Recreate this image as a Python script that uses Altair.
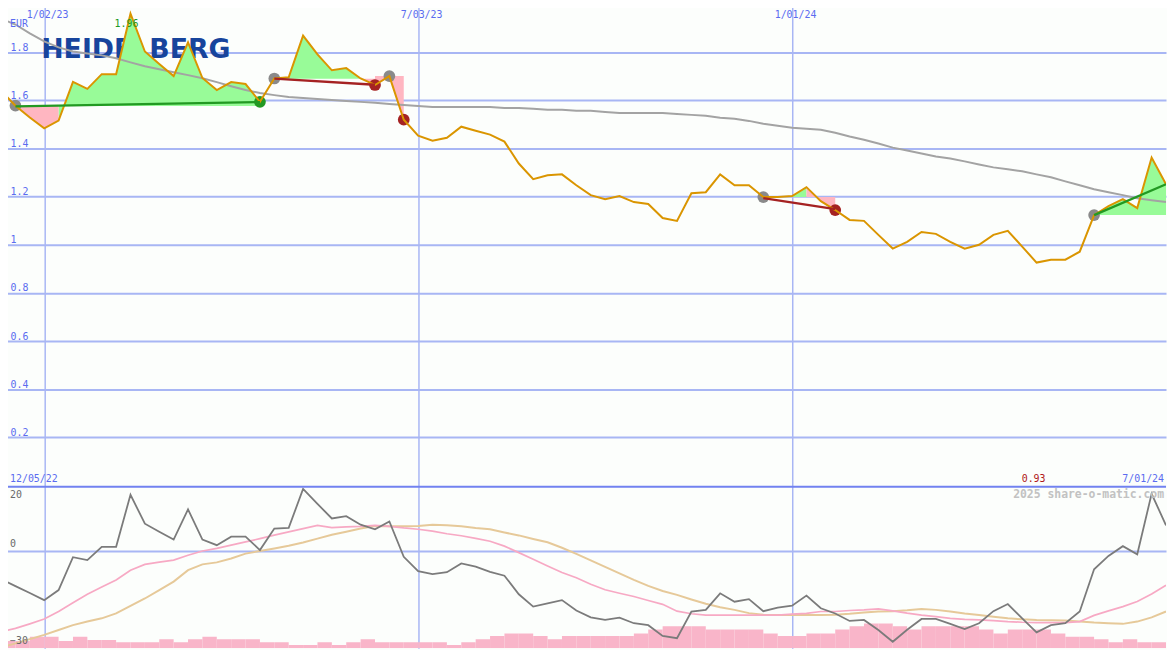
import altair as alt
import pandas as pd

# ---------------- data ----------------
FIRST_WEEK = "2022-12-12"
N_WEEKS = 82
START_LABEL = "12/05/22"
END_LABEL = "7/01/24"
CURRENCY = "EUR"
COMPANY = "HEIDELBERG"
WATERMARK = "2025 share-o-matic.com"

price = [1.639, 1.577, 1.528, 1.483, 1.515, 1.676, 1.647, 1.708, 1.708, 1.959,
         1.802, 1.750, 1.700, 1.840, 1.692, 1.642, 1.675, 1.667, 1.593, 1.690,
         1.695, 1.868, 1.790, 1.724, 1.733, 1.690, 1.663, 1.700, 1.519, 1.453,
         1.432, 1.444, 1.490, 1.473, 1.457, 1.428, 1.337, 1.272, 1.288, 1.292,
         1.247, 1.206, 1.189, 1.202, 1.177, 1.169, 1.111, 1.099, 1.214, 1.218,
         1.292, 1.247, 1.247, 1.198, 1.198, 1.202, 1.239, 1.181, 1.144, 1.103,
         1.099, 1.041, 0.984, 1.012, 1.053, 1.045, 1.012, 0.984, 1.000, 1.041,
         1.058, 0.992, 0.926, 0.938, 0.938, 0.971, 1.123, 1.160, 1.189, 1.152,
         1.362, 1.251]

ma_long = [1.938, 1.914, 1.877, 1.844, 1.819, 1.802, 1.794, 1.786, 1.774, 1.757,
           1.741, 1.728, 1.716, 1.704, 1.691, 1.675, 1.658, 1.642, 1.630, 1.621,
           1.613, 1.609, 1.605, 1.601, 1.597, 1.593, 1.589, 1.584, 1.580, 1.576,
           1.572, 1.572, 1.572, 1.572, 1.572, 1.568, 1.568, 1.564, 1.560, 1.560,
           1.556, 1.556, 1.551, 1.547, 1.547, 1.547, 1.547, 1.543, 1.539, 1.535,
           1.527, 1.523, 1.514, 1.502, 1.494, 1.486, 1.481, 1.477, 1.465, 1.449,
           1.436, 1.420, 1.403, 1.391, 1.379, 1.366, 1.358, 1.346, 1.333, 1.321,
           1.313, 1.305, 1.292, 1.280, 1.263, 1.247, 1.230, 1.218, 1.206, 1.193,
           1.185, 1.177]

momentum = [-8.7, -10.9, -13.0, -15.2, -12.1, -2.0, -2.9, 1.2, 1.2, 17.2,
            8.3, 5.8, 3.4, 12.7, 3.4, 1.7, 4.3, 4.3, 0.2, 6.8,
            7.0, 19.0, 14.4, 9.9, 10.6, 8.0, 6.6, 9.0, -1.9, -6.3,
            -7.2, -6.6, -3.9, -4.9, -6.5, -7.7, -13.4, -17.2, -16.2, -15.2,
            -18.4, -20.5, -21.3, -20.6, -22.3, -22.9, -26.2, -26.9, -18.7, -18.2,
            -13.1, -15.7, -14.9, -18.6, -17.5, -16.9, -13.8, -17.7, -19.3, -21.6,
            -21.3, -24.4, -28.0, -24.3, -21.0, -21.0, -22.5, -24.1, -22.3, -18.6,
            -16.4, -20.8, -25.1, -22.9, -22.3, -18.7, -5.7, -1.6, 1.4, -1.1,
            17.5, 7.8]

mom_avg_fast = [-24.9, -23.9, -22.5, -21.0, -18.7, -16.0, -13.4, -11.2, -9.0, -6.0,
                -4.2, -3.5, -2.9, -1.4, -0.1, 0.7, 1.7, 2.7, 3.7, 4.8,
                5.8, 6.8, 7.8, 7.1, 7.3, 7.5, 7.8, 7.5, 7.0, 6.6,
                6.0, 5.2, 4.6, 3.8, 2.9, 1.4, -0.6, -2.6, -4.7, -6.7,
                -8.3, -10.3, -12.0, -13.1, -14.1, -15.3, -16.5, -18.6, -19.4, -19.8,
                -19.8, -19.8, -19.8, -19.8, -19.8, -19.5, -19.3, -18.7, -18.7, -18.4,
                -18.2, -17.9, -18.5, -19.2, -19.8, -20.3, -20.8, -21.1, -21.3, -21.5,
                -21.8, -22.0, -22.1, -22.1, -22.1, -21.8, -19.9, -18.5, -17.2, -15.6,
                -13.3, -10.6]

mom_avg_slow = [-29.8, -28.5, -27.2, -25.9, -24.4, -22.9, -21.8, -20.8, -19.3, -17.0,
                -14.7, -12.1, -9.5, -6.0, -4.2, -3.6, -2.4, -0.9, -0.1, 0.7,
                1.5, 2.5, 3.7, 4.9, 5.8, 6.8, 7.6, 7.5, 7.5, 7.6,
                8.0, 7.8, 7.5, 7.0, 6.6, 5.6, 4.7, 3.6, 2.6, 0.9,
                -1.0, -3.0, -5.0, -7.0, -9.0, -10.8, -12.4, -13.6, -15.0, -16.3,
                -17.4, -18.2, -19.2, -19.7, -19.8, -19.8, -19.8, -19.8, -19.7, -19.4,
                -19.0, -18.7, -18.6, -18.3, -17.9, -18.2, -18.7, -19.3, -19.8, -20.3,
                -20.8, -21.1, -21.3, -21.4, -21.5, -21.8, -22.1, -22.3, -22.5, -21.8,
                -20.5, -18.7]

volume = [7.3, 7.3, 11.7, 11.7, 7.3, 11.7, 8.3, 8.3, 6.0, 6.0,
          6.0, 9.0, 6.0, 9.0, 11.7, 9.0, 9.0, 9.0, 6.0, 6.0,
          3.3, 3.3, 6.0, 3.3, 6.0, 9.0, 6.0, 6.0, 6.0, 6.0,
          6.0, 3.3, 6.0, 9.0, 12.3, 15.0, 15.0, 12.3, 9.0, 12.3,
          12.3, 12.3, 12.3, 12.3, 15.0, 19.0, 22.3, 22.3, 22.3, 19.0,
          19.0, 19.0, 19.0, 15.0, 12.3, 12.3, 15.0, 15.0, 19.0, 22.3,
          25.0, 25.0, 22.3, 19.0, 22.3, 22.3, 22.3, 22.3, 19.0, 15.0,
          19.0, 19.0, 19.0, 15.0, 11.7, 11.7, 9.0, 6.0, 9.0, 6.0,
          6.0, 6.0]

# signals
entry_weeks = [1, 19, 27, 53, 76]
sell_weeks = [26, 28, 58]
buy_weeks = [18]
trend_start_weeks = [1, 19, 53, 76]
trend_end_weeks = [18, 26, 58, 81]
trend_start_vals = [1.574, 1.689, 1.193, 1.123]
trend_end_vals = [1.592, 1.664, 1.148, 1.251]
trend_kind = ["up", "down", "down", "up"]
band_start_weeks = [1, 19, 26, 53, 76]
band_end_weeks = [18, 26, 28, 58, 81]
band_levels = [1.576, 1.689, 1.700, 1.198, 1.123]

Y_TICKS = [0.2, 0.4, 0.6, 0.8, 1.0, 1.2, 1.4, 1.6, 1.8]
Y_TOP_LINE = [1.997]
DATE_TICKS = ["2023-01-02", "2023-07-03", "2024-01-01"]
LOW_TOP_LABELS = [20]
LOW_BOTTOM_LABELS = [0, -30]

# ---------------- styles ----------------
MONO = "DejaVu Sans Mono"
BG = "#fcfefc"
GRID = "#a8b6f4"
BLUE = "#5b6cf0"
BORDER = "#7282f0"
ORANGE = "#da9500"
MA_GRAY = "#a3a3a3"
GREEN_FILL = "#98fb98"
PINK_FILL = "#ffb6c1"
TREND_GREEN = "#229922"
TREND_RED = "#a52222"
DOT_GRAY = "#8a8a8a"
OSC_GRAY = "#7b7b7b"
SIG_PINK = "#f7a9c4"
SIG_TAN = "#e6c999"
VOL_PINK = "#f9b5c9"

# ---------------- tables ----------------
dates = pd.date_range(FIRST_WEEK, periods=N_WEEKS, freq="7D")
ms = [int(v) for v in (dates.asi8 // 1_000_000)]
WEEK_MS = 7 * 86_400_000
tick_ms = [int(pd.Timestamp(d).value // 1_000_000) for d in DATE_TICKS]

base = pd.DataFrame({
    "t": ms, "t2": [m + WEEK_MS for m in ms], "price": price, "ma": ma_long,
    "mom": momentum, "fast": mom_avg_fast, "slow": mom_avg_slow, "vol": volume,
})

# shaded bands between price and the level of each signal
rows = []
gid = 0
for s, e, lvl in zip(band_start_weeks, band_end_weeks, band_levels):
    prev = None
    for k in range(s, e):
        col = "up" if price[k + 1] > lvl else "down"
        if col != prev:
            gid += 1
            rows.append(dict(g=gid, t=ms[k], p=price[k], lvl=lvl, c=col))
            prev = col
        rows.append(dict(g=gid, t=ms[k + 1], p=price[k + 1], lvl=lvl, c=col))
bands = pd.DataFrame(rows)

trows = []
for n, (s, e, vs, ve, kd) in enumerate(zip(trend_start_weeks, trend_end_weeks,
                                            trend_start_vals, trend_end_vals, trend_kind)):
    trows.append(dict(seg=n, t=ms[s], v=vs, kind=kd))
    trows.append(dict(seg=n, t=ms[e], v=ve, kind=kd))
trends = pd.DataFrame(trows)

drows = [dict(t=ms[i], v=price[i], kind="entry") for i in entry_weeks]
drows += [dict(t=ms[i], v=price[i], kind="sell") for i in sell_weeks]
drows += [dict(t=ms[i], v=price[i], kind="buy") for i in buy_weeks]
dots = pd.DataFrame(drows)

imax = price.index(max(price))
imin = price.index(min(price))
max_df = pd.DataFrame({"t": [ms[imax]], "v": [price[imax]], "s": [f"{price[imax]:.2f}"]})
min_df = pd.DataFrame({"t": [ms[imin]], "s": [f"{price[imin]:.2f}"]})

# ---------------- encodings ----------------
xscale = alt.Scale(type="utc", domain=[ms[0], ms[-1]], nice=False)
date_fmt = "utcFormat(datum.value, '%-m/%d/%y')"


def x_top(field="t"):
    return alt.X(f"{field}:T", scale=xscale, title=None,
                 axis=alt.Axis(orient="top", values=tick_ms, labelExpr=date_fmt,
                               offset=-16, ticks=False, domain=False, grid=True,
                               gridColor=GRID, gridWidth=1.5, labelColor=BLUE,
                               labelFont=MONO, labelFontSize=10, labelPadding=0,
                               labelOffset=3, labelFlush=False, labelOverlap=False,
                               minExtent=0, title=None))


def y_top(field):
    return alt.Y(f"{field}:Q", scale=alt.Scale(domain=[0, 2.0], nice=False, zero=False),
                 title=None,
                 axis=alt.Axis(values=Y_TICKS, format=".2~f",
                               offset=-9, labelAlign="left", labelBaseline="bottom",
                               labelPadding=0, ticks=False, domain=False, grid=True,
                               gridColor=GRID, gridWidth=2, labelColor=BLUE,
                               labelFont=MONO, labelFontSize=10, labelFlush=False,
                               labelOverlap=False, minExtent=0, title=None))


def x_low(field="t"):
    return alt.X(f"{field}:T", scale=xscale, title=None,
                 axis=alt.Axis(values=tick_ms, labels=False, ticks=False, domain=False,
                               grid=True, gridColor=GRID, gridWidth=1.5, minExtent=0,
                               title=None))


def y_low(field):
    return alt.Y(f"{field}:Q", scale=alt.Scale(domain=[-30, 20], nice=False, zero=False),
                 title=None,
                 axis=alt.Axis(values=[0], labels=False, ticks=False, domain=False,
                               grid=True, gridColor=GRID, gridWidth=2, minExtent=0,
                               title=None))


def note(text, x, y, color, align="left", size=10, weight="normal"):
    return alt.Chart(pd.DataFrame({"s": [text]})).mark_text(
        align=align, baseline="middle", font=MONO, fontSize=size,
        fontWeight=weight, color=color,
    ).encode(text="s:N", x=alt.value(x), y=alt.value(y))


# ---------------- top panel ----------------
top_line = alt.Chart(pd.DataFrame({"v": Y_TOP_LINE})).mark_rule(
    color=GRID, strokeWidth=2).encode(y=y_top("v"))

logo = alt.Chart(pd.DataFrame({"s": [COMPANY]})).mark_text(
    font="DejaVu Sans", fontWeight="bold", fontSize=27, color="#17449c",
    align="center", baseline="alphabetic",
).encode(text="s:N", x=alt.value(136), y=alt.value(55))


def band(kind, color):
    return alt.Chart(bands).transform_filter(alt.datum.c == kind).mark_area(
        interpolate="linear", opacity=1, color=color,
    ).encode(x=x_top("t"), y=y_top("p"), y2="lvl:Q", detail="g:N")


def dot_layer(kind, color):
    return alt.Chart(dots).transform_filter(alt.datum.kind == kind).mark_circle(
        size=140, opacity=1, color=color,
    ).encode(x=x_top("t"), y=y_top("v"))


def trend_layer(kind, color):
    return alt.Chart(trends).transform_filter(alt.datum.kind == kind).mark_line(
        strokeWidth=2.3, clip=True, color=color,
    ).encode(x=x_top("t"), y=y_top("v"), detail="seg:N")


ma_layer = alt.Chart(base).mark_line(color=MA_GRAY, strokeWidth=2, clip=True).encode(
    x=x_top("t"), y=y_top("ma"))

price_layer = alt.Chart(base).mark_line(color=ORANGE, strokeWidth=2, clip=True).encode(
    x=x_top("t"), y=y_top("price"))

max_label = alt.Chart(max_df).mark_text(
    font=MONO, fontSize=10, color=TREND_GREEN, align="center", baseline="middle",
    dx=-4, dy=10,
).encode(text="s:N", x=x_top("t"), y=y_top("v"))

min_label = alt.Chart(min_df).mark_text(
    font=MONO, fontSize=10, color="#b01818", align="center", baseline="middle", dx=-3,
).encode(text="s:N", x=x_top("t"), y=alt.value(479))

top = alt.layer(
    top_line, logo,
    band("up", GREEN_FILL), band("down", PINK_FILL),
    ma_layer,
    dot_layer("entry", DOT_GRAY), dot_layer("sell", TREND_RED), dot_layer("buy", TREND_GREEN),
    price_layer,
    trend_layer("up", TREND_GREEN), trend_layer("down", TREND_RED),
    max_label, min_label,
    note(CURRENCY, 9, 20, BLUE),
    note(START_LABEL, 9, 479, BLUE),
    note(END_LABEL, 1173, 479, BLUE, align="right"),
).properties(width=1175, height=486)

# ---------------- bottom panel ----------------
vol_layer = alt.Chart(base).mark_rect(color=VOL_PINK, clip=True, opacity=1).encode(
    x=x_low("t"), x2="t2:T",
    y=alt.Y("vol:Q", scale=alt.Scale(domain=[0, 164], nice=False), axis=None),
    y2=alt.datum(0),
)

slow_layer = alt.Chart(base).mark_line(color=SIG_TAN, strokeWidth=2, clip=True).encode(
    x=x_low("t"), y=y_low("slow"))
fast_layer = alt.Chart(base).mark_line(color=SIG_PINK, strokeWidth=1.7, clip=True).encode(
    x=x_low("t"), y=y_low("fast"))
mom_layer = alt.Chart(base).mark_line(color=OSC_GRAY, strokeWidth=1.8, clip=True).encode(
    x=x_low("t"), y=y_low("mom"))

border = alt.Chart(pd.DataFrame({"a": [0]})).mark_rule(color=BORDER, strokeWidth=2).encode(
    x=alt.value(0), x2=alt.value(1175), y=alt.value(1))

lab_top = alt.Chart(pd.DataFrame({"v": LOW_TOP_LABELS})).mark_text(
    font=MONO, fontSize=10, color="#6a6a6a", align="left", baseline="top", dy=4,
).encode(text=alt.Text("v:Q", format="d"), x=alt.value(9), y=y_low("v"))

lab_bottom = alt.Chart(pd.DataFrame({"v": LOW_BOTTOM_LABELS})).mark_text(
    font=MONO, fontSize=10, color="#6a6a6a", align="left", baseline="bottom", dy=-2,
).encode(text=alt.Text("v:Q", format="d"), x=alt.value(9), y=y_low("v"))

wm = note(WATERMARK, 1173, 9, "#c2c2c2", align="right", size=11.5, weight="bold")

inner = alt.layer(slow_layer, fast_layer, mom_layer, lab_top, lab_bottom, border, wm)
bottom = alt.layer(vol_layer, inner).resolve_scale(y="independent").properties(
    width=1175, height=164)

chart = alt.vconcat(top, bottom, spacing=0, bounds="flush").properties(
    padding={"left": -8, "top": -8, "right": 0, "bottom": 0},
    background=BG,
).configure_view(stroke=None)

chart.save("out.html", embed_options={"renderer": "svg", "actions": False})
